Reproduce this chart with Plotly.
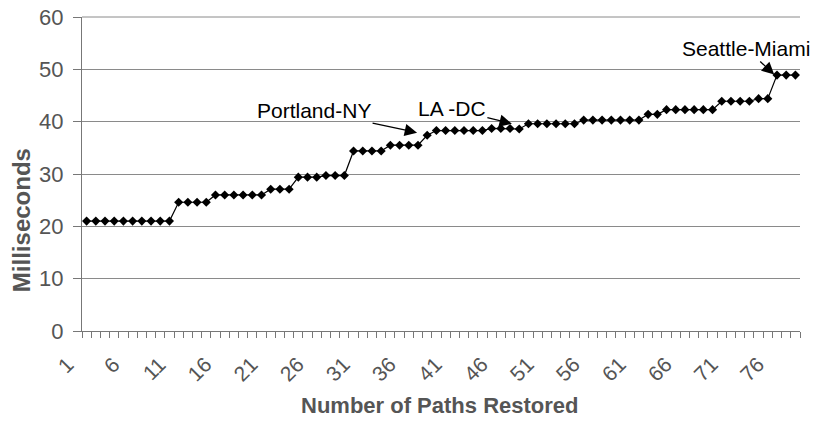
"""
Restoration time per path, sorted ascending, with three labelled paths.
"""

import plotly.graph_objects as go

# path index (1..78) and restoration time in ms
paths = list(range(1, 79))
restore_ms = (
	[21.0] * 10
	+ [24.6] * 4
	+ [26.0] * 6
	+ [27.1] * 3
	+ [29.4] * 3
	+ [29.7] * 3
	+ [34.4] * 4
	+ [35.5] * 4
	+ [37.4]
	+ [38.3] * 6
	+ [38.7] * 3
	+ [38.6]
	+ [39.6] * 6
	+ [40.3] * 7
	+ [41.4] * 2
	+ [42.3] * 6
	+ [43.9] * 4
	+ [44.4] * 2
	+ [48.9] * 3
)

tick_vals = list(range(1, 77, 5))
tick_text = [str(v) for v in tick_vals]

# callouts: label, x, y it points at, text offset in px
callout_labels = ["Portland-NY", "LA -DC", "Seattle-Miami"]
callout_x = [36.9, 47.2, 75.7]
callout_y = [37.9, 39.6, 49.0]
callout_ax = [-103, -60, -28]
callout_ay = [-22, -15, -26]

FONT = "Liberation Sans, Arial, Helvetica, sans-serif"
GREY_TXT = "#555555"
GRID = "#8a8a8a"

fig = go.Figure()

fig.add_trace(
	go.Scatter(
		x=paths,
		y=restore_ms,
		mode="lines+markers",
		line=dict(color="black", width=1.2),
		marker=dict(symbol="diamond", size=7, color="black"),
		showlegend=False,
	)
)

for label, x, y, ax, ay in zip(callout_labels, callout_x, callout_y, callout_ax, callout_ay):
	fig.add_annotation(
		x=x,
		y=y,
		text=label,
		showarrow=True,
		ax=ax,
		ay=ay,
		arrowhead=2,
		arrowsize=1.9,
		arrowwidth=1.3,
		arrowcolor="black",
		font=dict(family=FONT, size=21, color="black"),
	)

# axis titles placed by hand so the margins stay fixed
fig.add_annotation(
	text="<b>Number of Paths Restored</b>",
	xref="paper",
	yref="paper",
	x=0.4986,
	y=-0.236,
	xanchor="center",
	yanchor="middle",
	showarrow=False,
	font=dict(family=FONT, size=22, color=GREY_TXT),
)
fig.add_annotation(
	text="<b>Milliseconds</b>",
	xref="paper",
	yref="paper",
	x=-0.085,
	y=0.353,
	xanchor="center",
	yanchor="middle",
	textangle=-90,
	showarrow=False,
	font=dict(family=FONT, size=24, color=GREY_TXT),
)

# plotly drops the grid line sitting on the top edge, so draw it back (paper refs are not clipped)
fig.add_shape(
	type="line",
	xref="paper",
	yref="paper",
	x0=0,
	x1=1,
	y0=1,
	y1=1,
	line=dict(color=GRID, width=1),
)

fig.update_layout(
	width=817,
	height=435,
	margin=dict(l=82, r=17, t=17, b=104),
	paper_bgcolor="white",
	plot_bgcolor="white",
	font=dict(family=FONT, color=GREY_TXT),
	xaxis=dict(
		range=[0.5, 78.5],
		automargin=False,
		tickmode="array",
		tickvals=tick_vals,
		ticktext=tick_text,
		tickangle=-45,
		ticks="",
		ticklabelshift=-19,
		ticklabelstandoff=12,
		tickfont=dict(size=21, color=GREY_TXT),
		showgrid=False,
		zeroline=False,
		showline=True,
		linecolor="#777777",
		linewidth=1,
		minor=dict(ticks="outside", tick0=0.5, dtick=1, ticklen=6, tickcolor="#777777"),
	),
	yaxis=dict(
		range=[0, 60],
		automargin=False,
		dtick=10,
		ticks="outside",
		ticklen=8,
		tickcolor="#777777",
		ticklabelstandoff=5,
		ticklabeloverflow="allow",
		tickfont=dict(size=22, color=GREY_TXT),
		showgrid=True,
		gridcolor=GRID,
		gridwidth=1,
		zeroline=False,
		showline=True,
		linecolor="#777777",
		linewidth=1,
	),
)

# drop the page's default 8px body margin so the figure sits at the window corner
fig.write_html(
	"out.html",
	config={"displayModeBar": False},
	post_script="document.body.style.margin = '0';",
)
